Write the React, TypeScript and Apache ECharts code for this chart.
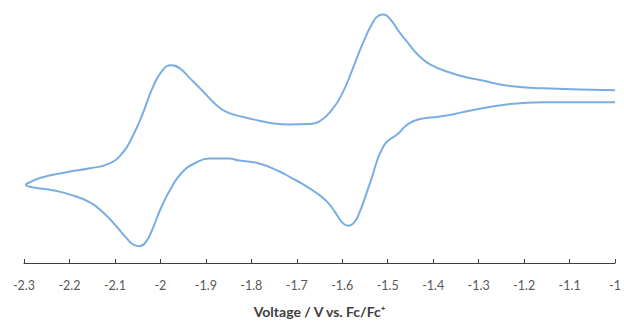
import React, { useEffect, useRef } from "react";
import * as echarts from "echarts";

// Cyclic voltammogram: voltage (V vs. Fc/Fc+) and current (arbitrary units), traced in loop order
const voltage: number[] = [
  -1.0, -1.158, -1.231, -1.303, -1.323, -1.36, -1.404, -1.432, -1.454, -1.476, -1.494, -1.509, -1.52, -1.535,
  -1.557, -1.579, -1.601, -1.623, -1.651, -1.673, -1.717, -1.75, -1.783, -1.82, -1.855, -1.877, -1.908,
  -1.936, -1.958, -1.976, -1.995, -2.017, -2.039, -2.061, -2.083, -2.112, -2.155, -2.206, -2.265, -2.289, -2.296,
  -2.287, -2.243, -2.2, -2.155, -2.127, -2.096, -2.074, -2.057, -2.046, -2.031, -2.017, -1.998, -1.976, -1.952,
  -1.921, -1.892, -1.849, -1.827, -1.783, -1.739, -1.711, -1.684, -1.655, -1.632, -1.617, -1.603, -1.594, -1.586,
  -1.576, -1.566, -1.538, -1.509, -1.476, -1.454, -1.426, -1.389, -1.351, -1.323, -1.231, -1.158, -1.0,
];
const current: number[] = [
  177.6, 179.6, 182, 188.6, 190.3, 195.3, 203.3, 213.3, 225.3, 238.3, 250.3, 255.3, 254.3, 245.3,
  223.3, 197.3, 173.3, 157.3, 145.3, 142.8, 142.3, 143.3, 146.3, 150.3, 155.3, 162.3, 177.3,
  190.3, 200.3, 203.3, 198.3, 180.3, 153.3, 130.3, 113.3, 102.3, 97.3, 93.3, 87.3, 82.5, 80.8,
  78.3, 75.3, 70.5, 62.3, 52.3, 37.3, 25.3, 18.3, 17.3, 22.3, 35.3, 57.3, 77.3, 93.3,
  103.3, 107.3, 107.3, 105.3, 102.3, 94.3, 87.3, 80.3, 71.5, 62.3, 53.0, 43.3, 39.3, 38.3,
  40.5, 47.3, 83.3, 120.3, 133.3, 143.3, 148.3, 150.3, 153.3, 156.3, 163.3, 165.3, 165.3,
];
const xMin = -2.3;
const xMax = -1;
const xStep = 0.1;
const axisTitle = "Voltage / V vs. Fc/Fc\u207A";

export default function App() {
  const ref = useRef<HTMLDivElement>(null);
  useEffect(() => {
    if (!ref.current) return;
    const chart = echarts.init(ref.current, null, { renderer: "svg" });
    const data = voltage.map((v, i) => [v, current[i]]);
    chart.setOption({
      animation: false,
      backgroundColor: "#ffffff",
      grid: { left: 24, right: 6.7, top: 0, bottom: 52.7 },
      xAxis: {
        type: "value",
        min: xMin,
        max: xMax,
        interval: xStep,
        axisLine: { show: true, onZero: false, lineStyle: { color: "#404040", width: 1 } },
        axisTick: { show: true, inside: true, length: 4, lineStyle: { color: "#404040" } },
        splitLine: { show: false },
        axisLabel: {
          margin: 16,
          fontSize: 12.5,
          fontFamily: "Lato",
          color: "#595959",
          formatter: (v: number) => String(Math.round(v * 10) / 10),
        },
        name: axisTitle,
        nameLocation: "middle",
        nameGap: 41,
        nameTextStyle: { fontSize: 14, fontWeight: "bold", fontFamily: "Lato", color: "#404040" },
      },
      yAxis: {
        type: "value",
        min: 0,
        max: 270.3,
        show: false,
      },
      series: [
        {
          type: "line",
          data,
          smooth: 0.5,
          showSymbol: false,
          lineStyle: { color: "#7aaee2", width: 2 },
        },
      ],
    });
    return () => chart.dispose();
  }, []);
  return (
    <div
      ref={ref}
      style={{ position: "fixed", left: 0, top: 0, width: 624, height: 323, background: "#fff" }}
    />
  );
}
